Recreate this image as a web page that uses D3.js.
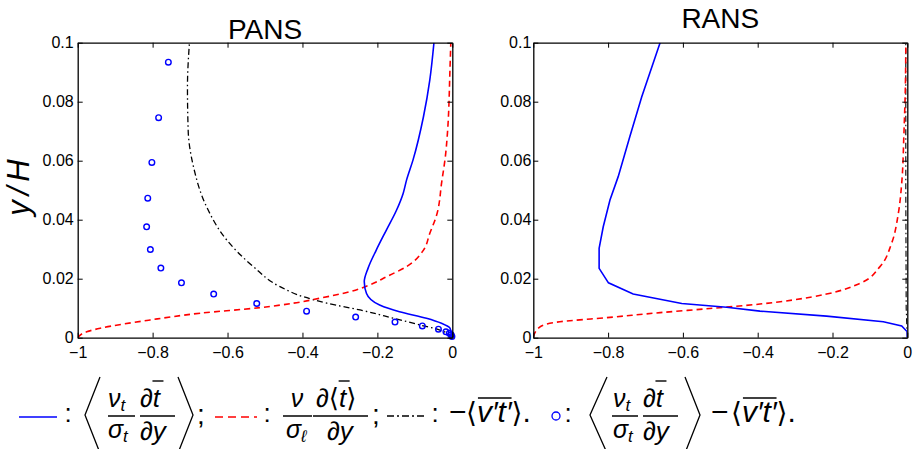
<!DOCTYPE html>
<html><head><meta charset="utf-8">
<script src="https://cdn.jsdelivr.net/npm/d3@7"></script>
<style>body{margin:0;background:#fff}svg{display:block}text{font-family:"Liberation Sans",Arial,sans-serif}</style>
</head><body>
<svg id="c" width="913" height="449"></svg>
<script>
// ---- tick values / labels ----
const xTicks=[-1,-0.8,-0.6,-0.4,-0.2,0];
const xTickLabels=["\u22121","\u22120.8","\u22120.6","\u22120.4","\u22120.2","0"];
const yTicks=[0,0.02,0.04,0.06,0.08,0.1];
const yTickLabels=["0","0.02","0.04","0.06","0.08","0.1"];
const panelTitles=["PANS","RANS"];

// ---- PANS series ----
const pansTurbX=[0,-0.002,-0.006,-0.029,-0.069,-0.141,-0.194,-0.229,-0.235,-0.225,-0.203,-0.176,-0.149,-0.131,-0.122,-0.105,-0.077,-0.060,-0.049];
const pansTurbY=[0,0.0009,0.0032,0.0049,0.0066,0.0088,0.0111,0.0150,0.0190,0.0235,0.0297,0.0365,0.0432,0.0490,0.0535,0.0602,0.0749,0.0874,0.1];
const pansMolX=[-1,-0.976,-0.940,-0.807,-0.673,-0.513,-0.424,-0.353,-0.273,-0.220,-0.175,-0.122,-0.077,-0.060,-0.042,-0.028,-0.018,-0.013,-0.006,-0.004];
const pansMolY=[0,0.0020,0.0032,0.0060,0.0083,0.0102,0.0117,0.0134,0.0156,0.0179,0.0207,0.0241,0.0297,0.0354,0.0415,0.0530,0.0620,0.0693,0.0919,0.1];
const pansResX=[0,-0.033,-0.086,-0.157,-0.246,-0.335,-0.398,-0.460,-0.531,-0.602,-0.656,-0.691,-0.705,-0.707,-0.702];
const pansResY=[0,0.0026,0.0043,0.0066,0.0094,0.0117,0.0139,0.0173,0.0241,0.0331,0.0444,0.0580,0.0700,0.0850,0.0995];
const pansDiffX=[-0.758,-0.784,-0.802,-0.813,-0.816,-0.806,-0.778,-0.723,-0.637,-0.522,-0.389,-0.258,-0.153,-0.080,-0.037,-0.017,-0.008,-0.003,-0.001];
const pansDiffY=[0.0934,0.0746,0.0594,0.0473,0.0376,0.0299,0.0236,0.0186,0.0148,0.0116,0.0090,0.0070,0.0053,0.0040,0.0029,0.0020,0.0015,0.0010,0.0004];

// ---- RANS series ----
const ransTurbX=[0,0,-0.015,-0.064,-0.216,-0.394,-0.483,-0.603,-0.733,-0.799,-0.824,-0.824,-0.813,-0.795,-0.773,-0.742,-0.710,-0.661];
const ransTurbY=[0,0.0020,0.0040,0.0054,0.0073,0.0090,0.0103,0.0116,0.0148,0.0186,0.0235,0.0303,0.0376,0.0467,0.0546,0.0681,0.0817,0.1];
const ransMolX=[-1,-0.982,-0.929,-0.795,-0.661,-0.528,-0.394,-0.305,-0.216,-0.127,-0.073,-0.042,-0.024,-0.015,-0.009,-0.005,-0.004];
const ransMolY=[0.0003,0.0037,0.0054,0.0069,0.0085,0.0099,0.0114,0.0128,0.0148,0.0184,0.0241,0.0320,0.0421,0.0523,0.0693,0.0862,0.0986];
const ransResX=[0,-0.003,-0.004,-0.004];
const ransResY=[0,0.010,0.050,0.100];

const svg=d3.select("#c");
const BLUE="#0000ff", RED="#ff0000";

function zip(xs,ys){return xs.map((v,i)=>[v,ys[i]]);}

function panel(opt){
  const x=d3.scaleLinear().domain([-1,0]).range([opt.x0,opt.x1]);
  const y=d3.scaleLinear().domain([0,0.1]).range([337.7,42.7]);
  const g=svg.append("g");
  const id="clip"+Math.round(opt.x0);
  svg.append("clipPath").attr("id",id).append("rect")
     .attr("x",opt.x0).attr("y",42.7).attr("width",opt.x1-opt.x0).attr("height",295);
  const lg=g.append("g").attr("clip-path",`url(#${id})`);
  opt.series.forEach(s=>{
    const line=d3.line().x(d=>x(d[0])).y(d=>y(d[1])).curve(s.smooth?d3.curveMonotoneY:d3.curveLinear);
    lg.append("path").attr("d",line(zip(s.x,s.y))).attr("fill","none")
      .attr("stroke",s.color).attr("stroke-width",s.w)
      .attr("stroke-dasharray",s.dash||null);
  });
  if(opt.circles){
    g.selectAll("circle.m").data(zip(opt.circles.x,opt.circles.y)).enter().append("circle")
      .attr("cx",d=>x(d[0])).attr("cy",d=>y(d[1])).attr("r",2.8)
      .attr("fill","none").attr("stroke",BLUE).attr("stroke-width",1.4);
  }
  const style=(a)=>{a.selectAll("path.domain").attr("stroke","#000").attr("stroke-width",1.3);
    a.selectAll("line").attr("stroke","#000").attr("stroke-width",1);
    a.selectAll("text").attr("font-size",16).attr("fill","#000").attr("font-family","Liberation Sans, Arial, sans-serif");};
  const ax=g.append("g").attr("transform","translate(0,337.7)")
    .call(d3.axisBottom(x).tickValues(xTicks).tickFormat((d,i)=>xTickLabels[i]).tickSize(-5).tickSizeOuter(0).tickPadding(9));
  style(ax);
  const at=g.append("g").attr("transform","translate(0,42.7)")
    .call(d3.axisTop(x).tickValues(xTicks).tickFormat("").tickSize(-5).tickSizeOuter(0));
  style(at);
  const ay=g.append("g").attr("transform",`translate(${opt.x0},0)`)
    .call(d3.axisLeft(y).tickValues(yTicks).tickFormat((d,i)=>yTickLabels[i]).tickSize(-5).tickSizeOuter(0).tickPadding(opt.pad));
  style(ay);
  const ar=g.append("g").attr("transform",`translate(${opt.x1},0)`)
    .call(d3.axisRight(y).tickValues(yTicks).tickFormat("").tickSize(-5).tickSizeOuter(0));
  style(ar);
  g.append("text").attr("x",(opt.x0+opt.x1)/2).attr("y",opt.titleY).attr("text-anchor","middle")
    .attr("font-size",28).text(opt.title);
}

panel({x0:77.7,x1:452.3,pad:4,title:panelTitles[0],titleY:39,
  series:[
    {x:pansResX,y:pansResY,color:"#000",w:1.3,dash:"6,3,1.5,3",smooth:true},
    {x:pansMolX,y:pansMolY,color:RED,w:1.6,dash:"6,4",smooth:true},
    {x:pansTurbX,y:pansTurbY,color:BLUE,w:1.6,smooth:true}
  ],
  circles:{x:pansDiffX,y:pansDiffY}});
panel({x0:533.3,x1:907.3,pad:2,title:panelTitles[1],titleY:28,
  series:[
    {x:ransResX,y:ransResY,color:"#000",w:1.1,dash:"6,3,1.5,3"},
    {x:ransMolX,y:ransMolY,color:RED,w:1.6,dash:"6,4",smooth:true},
    {x:ransTurbX,y:ransTurbY,color:BLUE,w:1.6}
  ]});

// y label
svg.append("text").attr("transform","translate(29,185) rotate(-90)").attr("text-anchor","middle")
  .attr("font-size",31).attr("font-style","italic").attr("letter-spacing","5").text("y/H");

// ---- legend ----
const L=svg.append("g");
function t(x,y,s,size,opts={}){
  const e=L.append("text").attr("x",x).attr("y",y).attr("font-size",size)
    .attr("text-anchor",opts.anchor||"start").attr("font-style",opts.italic===false?"normal":"italic");
  if(opts.sub){e.append("tspan").text(s);e.append("tspan").attr("font-size",opts.subSize||17).attr("dy",4).text(opts.sub);}
  else e.text(s);
  return e;
}
function hline(x1,x2,y,w){L.append("line").attr("x1",x1).attr("x2",x2).attr("y1",y).attr("y2",y).attr("stroke","#000").attr("stroke-width",w||1.5);}
function bracket(pts){L.append("path").attr("d","M"+pts.map(p=>p.join(",")).join("L")).attr("fill","none").attr("stroke","#000").attr("stroke-width",1.3);}
function overbar(textEl,i0,i1,yy,minW){
  const n=textEl.node();
  const a=n.getExtentOfChar(i0), b=n.getExtentOfChar(i1);
  let x1=a.x+1, x2=b.x+b.width;
  if(minW && x2-x1<minW){const c=(x1+x2)/2+1; x1=c-minW/2; x2=c+minW/2;}
  hline(x1,x2,yy,1.4);
}
function colon(x){t(x,422,":",26,{anchor:"middle",italic:false});}

// item 1
L.append("line").attr("x1",19).attr("x2",57).attr("y1",417).attr("y2",417).attr("stroke",BLUE).attr("stroke-width",1.6);
colon(68);
bracket([[100,377],[85,415],[100,453]]);
t(108,407,"\u03bd",25,{sub:"t"}); hline(108,135,416);
t(108,438,"\u03c3",25,{sub:"t"});
let e1=t(140,407,"\u2202t",26); overbar(e1,1,1,381,11);
hline(140,175,416);
t(140,440,"\u2202y",26);
bracket([[178,377],[193,415],[178,453]]);
t(201,424,";",28,{anchor:"middle",italic:false});
// item 2
L.append("line").attr("x1",215).attr("x2",257).attr("y1",417).attr("y2",417).attr("stroke",RED).attr("stroke-width",1.6).attr("stroke-dasharray","8,5");
colon(267);
t(297,407,"\u03bd",25,{anchor:"middle"}); hline(283,312,416);
t(286,438,"\u03c3",25,{sub:"\u2113"});
let e2=L.append("text").attr("x",316).attr("y",407).attr("font-size",26);
e2.append("tspan").attr("font-style","italic").text("\u2202");
e2.append("tspan").attr("font-family","DejaVu Sans").attr("font-size",26).text("\u27e8");
e2.append("tspan").attr("font-style","italic").text("t");
e2.append("tspan").attr("font-family","DejaVu Sans").attr("font-size",26).text("\u27e9");
overbar(e2,2,2,381,11);
hline(313,368,416);
t(327,440,"\u2202y",26);
t(376,424,";",28,{anchor:"middle",italic:false});
// item 3
L.append("line").attr("x1",387).attr("x2",425).attr("y1",416).attr("y2",416).attr("stroke","#000").attr("stroke-width",1.4).attr("stroke-dasharray","7,3,2,3");
colon(435);
function vt(x,minusX){
  t(minusX,422,"\u2212",30,{italic:false});
  const e=L.append("text").attr("x",x).attr("y",422).attr("font-size",30);
  e.append("tspan").attr("font-family","DejaVu Sans").attr("font-size",28).text("\u27e8");
  e.append("tspan").attr("font-style","italic").text("v\u2032t\u2032");
  e.append("tspan").attr("font-family","DejaVu Sans").attr("font-size",28).text("\u27e9");
  e.append("tspan").text(".");
  overbar(e,1,4,398);
}
vt(466,449);
// item 4
L.append("circle").attr("cx",556).attr("cy",416).attr("r",4).attr("fill","none").attr("stroke",BLUE).attr("stroke-width",1.3);
colon(568);
bracket([[607,377],[590,415],[607,453]]);
t(613,407,"\u03bd",25,{sub:"t"}); hline(612,638,416);
t(613,438,"\u03c3",25,{sub:"t"});
let e4=t(643,407,"\u2202t",26); overbar(e4,1,1,381,11);
hline(643,678,416);
t(643,440,"\u2202y",26);
bracket([[685,377],[700,415],[685,453]]);
vt(731,711);
</script>
</body></html>
